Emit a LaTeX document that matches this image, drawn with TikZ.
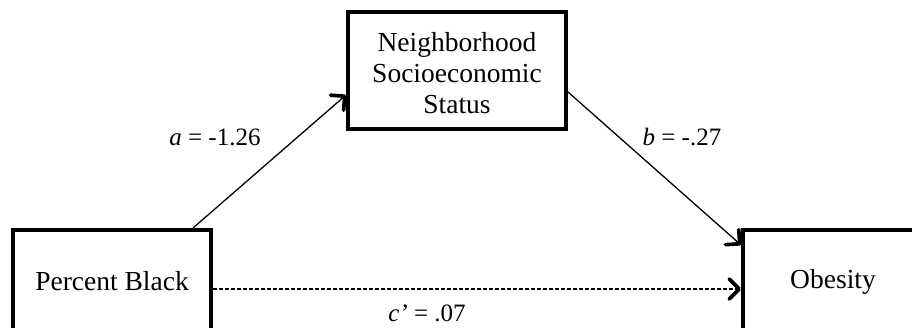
\documentclass[tikz,border=0pt]{standalone}
\usepackage{fontspec}
\setmainfont{Liberation Serif}
\usetikzlibrary{arrows.meta}
\tikzset{
  box/.style={draw=black, line width=4pt, minimum width=198pt, minimum height=116pt, inner sep=0pt},
  boxtext/.style={font=\fontsize{27.5}{31}\selectfont, align=center, inner sep=0pt},
  lbl/.style={font=\fontsize{25}{28}\selectfont, inner sep=0pt},
  link/.style={line width=1.3pt, -{Straight Barb[length=10pt, width=20pt, line width=0pt 2.8, round]}},
}
\begin{document}
\begin{tikzpicture}[x=1pt, y=-1pt]
\useasboundingbox (0,0) rectangle (912,327);
\clip (0,0) rectangle (912,327);
% boxes
\node[box, minimum width=218pt, minimum height=117pt] (ns) at (457,70.5) {};
\node[box] (pb) at (112,288) {};
\node[box] (ob) at (842,288) {};
% box texts
\node[boxtext] (nst) at (457,73) {Neighborhood\\Socioeconomic\\Status};
\node[boxtext] (pbt) at (112,281) {Percent Black};
\node[boxtext] (obt) at (833,282) {Obesity};
% connectors
\draw[link] ([xshift=81pt]pb.north) -- ([yshift=-24.5pt]ns.west);
\draw[link] ([yshift=-21.5pt]ns.east) -- ([yshift=43pt]ob.west);
\draw[link, dash pattern=on 4pt off 2pt] ([yshift=-1pt]pb.east) -- ([yshift=-1pt]ob.west);
% labels
\node[lbl] (la) at (215,137) {\textit{a} = -1.26};
\node[lbl] (lb) at (682,137) {\textit{b} = -.27};
\node[lbl] (lc) at (427,313) {\textit{c’} = .07};
\end{tikzpicture}
\end{document}
